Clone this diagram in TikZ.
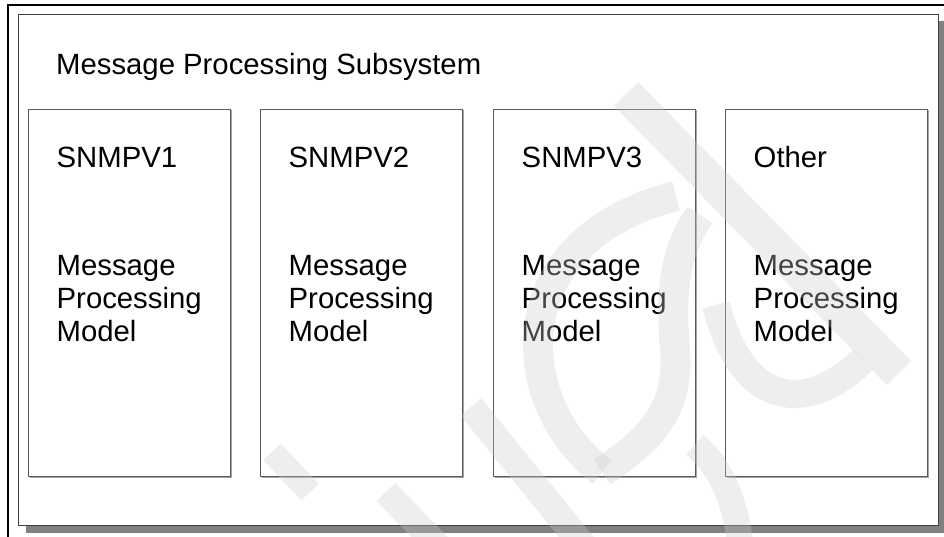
\documentclass[tikz,border=0pt]{standalone}
\usepackage{fontspec}
\setmainfont{Liberation Sans}
\begin{document}
\begin{tikzpicture}[x=1pt,y=-1pt,
  lbl/.style={anchor=base west,inner sep=0pt,font=\fontsize{29.3}{32.8}\selectfont},
  model/.style={draw=black!65,line width=1pt,fill=white},
  wm/.style={draw=black!20,draw opacity=0.33,line cap=butt}]
\useasboundingbox (0,0) rectangle (944,537);
\fill[white] (0,0) rectangle (944,537);
% page frame
\draw[line width=1.5pt] (8,537) -- (8,5) -- (944,5);
% main box with shadow
\fill[black!50] (26,21) rectangle (948,533);
\node[draw=black!75,line width=1.3pt,fill=white,minimum width=920pt,minimum height=511pt,anchor=north west,inner sep=0pt] (sub) at (18,14) {};
\node[lbl] (title) at (56,75) {Message Processing Subsystem};
% model boxes
\foreach \i/\x/\t in {1/28/SNMPV1,2/260/SNMPV2,3/493/SNMPV3,4/725/Other}{
  \fill[black!35] (\x+1.5,110.5) rectangle (\x+203.5,477.5);
  \node[model,minimum width=202pt,minimum height=367pt,anchor=north west,inner sep=0pt] (box\i) at (\x,109) {};
  \node[lbl] (v\i) at (\x+28.5,168) {\t};
  \node[lbl] (ma\i) at (\x+28.5,275.5) {Message};
  \node[lbl] (mb\i) at (\x+28.5,308.3) {Processing};
  \node[lbl] (mc\i) at (\x+28.5,341) {Model};
}
% watermark (approximate)
\draw[wm,line width=34pt] (626,94) -- (899,373);
\draw[wm,line width=24pt] (272,452) -- (310,492);
\draw[wm,line width=26pt] (386,492) -- (452,560);
\draw[wm,line width=27pt] (471,407) -- (595,560);
\draw[wm,line width=30pt] (602,472) .. controls (535,420) and (520,330) .. (560,270) .. controls (590,225) and (640,205) .. (676,196);
\draw[wm,line width=30pt] (602,472) .. controls (650,440) and (680,410) .. (675,350) .. controls (670,290) and (675,250) .. (700,215);
\draw[wm,line width=28pt] (716,305) .. controls (740,400) and (800,420) .. (863,360);
\draw[wm,line width=26pt] (695,445) .. controls (725,470) and (738,510) .. (742,560);
\end{tikzpicture}
\end{document}
